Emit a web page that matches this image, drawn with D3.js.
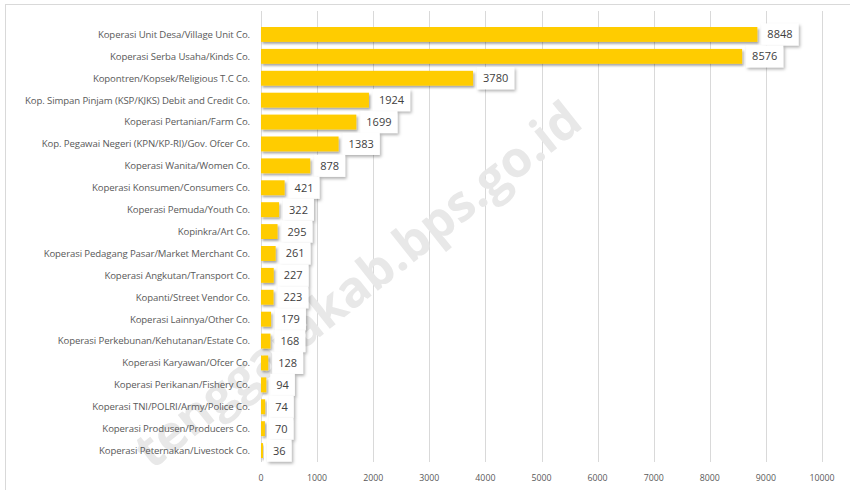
<!DOCTYPE html>
<html>
<head>
<meta charset="utf-8">
<script src="https://cdn.jsdelivr.net/npm/d3@7"></script>
<style>
  body { margin: 0; background: #fff; }
  svg { display: block; font-family: "Open Sans", sans-serif; }
  .cat { fill: #595959; font-size: 9.6px; letter-spacing: -0.1px; }
  .tick-label { fill: #595959; font-size: 8.8px; }
  .val { fill: #404040; font-size: 11px; }
  .grid { stroke: #d9d9d9; stroke-width: 1; }
</style>
</head>
<body>
<svg id="chart" width="850" height="490"></svg>
<script>
const categories = [
  "Koperasi Unit Desa/Village Unit Co.",
  "Koperasi Serba Usaha/Kinds Co.",
  "Kopontren/Kopsek/Religious T.C Co.",
  "Kop. Simpan Pinjam (KSP/KJKS) Debit and Credit Co.",
  "Koperasi Pertanian/Farm Co.",
  "Kop. Pegawai Negeri (KPN/KP-RI)/Gov. Ofcer Co.",
  "Koperasi Wanita/Women Co.",
  "Koperasi Konsumen/Consumers Co.",
  "Koperasi Pemuda/Youth Co.",
  "Kopinkra/Art Co.",
  "Koperasi Pedagang Pasar/Market Merchant Co.",
  "Koperasi Angkutan/Transport Co.",
  "Kopanti/Street Vendor Co.",
  "Koperasi Lainnya/Other Co.",
  "Koperasi Perkebunan/Kehutanan/Estate Co.",
  "Koperasi Karyawan/Ofcer Co.",
  "Koperasi Perikanan/Fishery Co.",
  "Koperasi TNI/POLRI/Army/Police Co.",
  "Koperasi Produsen/Producers Co.",
  "Koperasi Peternakan/Livestock Co."
];
const values = [8848, 8576, 3780, 1924, 1699, 1383, 878, 421, 322, 295, 261, 227, 223, 179, 168, 128, 94, 74, 70, 36];
const xTicks = [0, 1000, 2000, 3000, 4000, 5000, 6000, 7000, 8000, 9000, 10000];
const watermark = "tenggarakab.bps.go.id";

const data = categories.map((c, i) => ({ name: c, value: values[i] }));

const svg = d3.select("#chart");
const defs = svg.append("defs");

const barShadow = defs.append("filter").attr("id", "barShadow")
  .attr("x", "-20%").attr("y", "-40%").attr("width", "160%").attr("height", "200%");
barShadow.append("feDropShadow").attr("dx", 1.5).attr("dy", 2).attr("stdDeviation", 1.3)
  .attr("flood-color", "#000").attr("flood-opacity", 0.35);

const boxShadow = defs.append("filter").attr("id", "boxShadow")
  .attr("x", "-40%").attr("y", "-40%").attr("width", "190%").attr("height", "200%");
boxShadow.append("feDropShadow").attr("dx", 1.5).attr("dy", 2).attr("stdDeviation", 1.6)
  .attr("flood-color", "#000").attr("flood-opacity", 0.3);

// outer border
svg.append("rect").attr("x", 5.5).attr("y", 4.5).attr("width", 900).attr("height", 600)
  .attr("fill", "none").attr("stroke", "#d9d9d9");

const x = d3.scaleLinear().domain([0, 10000]).range([261, 822]);
const y = d3.scaleBand().domain(categories).range([23.5, 461.5]).paddingInner(0.32).paddingOuter(0.16);

// gridlines
svg.append("g").selectAll("line").data(xTicks).join("line")
  .attr("class", "grid")
  .attr("x1", d => Math.round(x(d)) + 0.5).attr("x2", d => Math.round(x(d)) + 0.5)
  .attr("y1", 11).attr("y2", 462);

// watermark
svg.append("text")
  .attr("transform", "translate(585,126) rotate(-38.5)")
  .attr("text-anchor", "end")
  .attr("font-family", "Open Sans, sans-serif")
  .attr("font-weight", "bold")
  .attr("font-size", 50)
  .attr("fill", "#e8e8e8")
  .text(watermark);

// x tick labels
svg.append("g").selectAll("text").data(xTicks).join("text")
  .attr("class", "tick-label")
  .attr("x", d => x(d)).attr("y", 481)
  .attr("text-anchor", "middle")
  .text(d => d);

// category labels
svg.append("g").selectAll("text").data(data).join("text")
  .attr("class", "cat")
  .attr("x", 250)
  .attr("y", d => y(d.name) + y.bandwidth() / 2)
  .attr("dy", "0.35em")
  .attr("text-anchor", "end")
  .text(d => d.name);

// bars
svg.append("g").selectAll("rect").data(data).join("rect")
  .attr("x", x(0))
  .attr("y", d => y(d.name))
  .attr("width", d => x(d.value) - x(0))
  .attr("height", y.bandwidth())
  .attr("fill", "#ffcc00")
  .attr("filter", "url(#barShadow)");

// value labels in white boxes
const lab = svg.append("g").selectAll("g").data(data).join("g")
  .attr("transform", d => `translate(${x(d.value) + 4},${y(d.name) + y.bandwidth() / 2})`);
lab.append("rect").attr("class", "box")
  .attr("x", 0).attr("y", -11).attr("height", 22)
  .attr("fill", "#fff").attr("filter", "url(#boxShadow)");
lab.append("text").attr("class", "val")
  .attr("x", 6).attr("dy", "0.36em")
  .text(d => d.value);
lab.each(function() {
  const w = d3.select(this).select("text").node().getComputedTextLength();
  d3.select(this).select("rect").attr("width", w + 12);
});
</script>
</body>
</html>
